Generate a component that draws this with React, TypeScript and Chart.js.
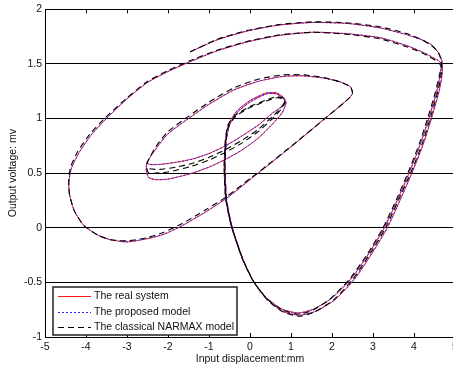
import React, { useEffect, useRef } from 'react';
import { Chart, registerables } from 'chart.js';

Chart.register(...registerables);

const seriesNames = ['The real system', 'The proposed model', 'The classical NARMAX model'];
const xTitle = 'Input displacement:mm';
const yTitle = 'Output voltage: mv';

// [input displacement, output voltage] read along the trajectory
const realSystem: [number, number][] = [
  [-1.46, 1.61], [-0.8, 1.72], [-0.08, 1.8], [0.7, 1.855], [1.54, 1.88], [2.4, 1.87], [3.17, 1.83], [3.8, 1.77], [4.2, 1.72], [4.45, 1.67], [4.6, 1.6], [4.68, 1.53],
  [4.69, 1.42], [4.62, 1.26], [4.44, 1.02], [4.24, 0.78], [3.97, 0.52], [3.67, 0.26], [3.35, 0.0], [3.0, -0.22], [2.55, -0.47], [2.07, -0.66], [1.6, -0.765], [1.2, -0.8],
  [0.8, -0.765], [0.42, -0.655], [0.1, -0.5], [-0.16, -0.3], [-0.43, 0.0], [-0.57, 0.25], [-0.61, 0.55], [-0.58, 0.8], [-0.5, 0.94],
  [-0.3, 1.06], [0.0, 1.15], [0.4, 1.225], [0.65, 1.225], [0.82, 1.18], [0.87, 1.13],
  [0.78, 1.05], [0.55, 0.95], [0.2, 0.82], [-0.2, 0.71], [-0.6, 0.625], [-1.0, 0.555], [-1.45, 0.495], [-2.0, 0.445], [-2.3, 0.44], [-2.47, 0.46], [-2.53, 0.52],
  [-2.51, 0.6], [-2.3, 0.72], [-2.0, 0.86], [-1.5, 1.0], [-1.0, 1.13], [-0.4, 1.26], [0.2, 1.34], [0.8, 1.385], [1.3, 1.39], [1.8, 1.37], [2.2, 1.335], [2.45, 1.29], [2.5, 1.23],
  [2.4, 1.18], [1.7, 0.96], [1.0, 0.74], [0.4, 0.56], [0.0, 0.44], [-0.57, 0.27], [-1.1, 0.14], [-1.65, 0.02], [-2.1, -0.06], [-2.5, -0.1], [-3.0, -0.13], [-3.4, -0.11], [-3.7, -0.07], [-4.05, 0.02], [-4.28, 0.15], [-4.4, 0.3], [-4.42, 0.42], [-4.35, 0.55],
  [-4.15, 0.7], [-3.85, 0.86], [-3.5, 1.0], [-3.0, 1.18], [-2.5, 1.33], [-2.0, 1.43], [-1.46, 1.52], [-0.8, 1.62], [-0.08, 1.7], [0.7, 1.76], [1.54, 1.79], [2.4, 1.775], [3.17, 1.74], [3.8, 1.67], [4.2, 1.61], [4.45, 1.56], [4.63, 1.52], [4.67, 1.49],
  [4.64, 1.4], [4.55, 1.24], [4.37, 1.01], [4.16, 0.77], [3.89, 0.51], [3.58, 0.24], [3.26, -0.01], [2.91, -0.23], [2.46, -0.47], [1.99, -0.645], [1.55, -0.745], [1.17, -0.78],
  [0.78, -0.745], [0.4, -0.64], [0.08, -0.485], [-0.18, -0.29], [-0.45, 0.01], [-0.59, 0.26], [-0.63, 0.55], [-0.6, 0.8], [-0.52, 0.95],
  [-0.32, 1.07], [0.0, 1.165], [0.4, 1.235], [0.65, 1.235], [0.83, 1.19], [0.88, 1.14],
  [0.78, 1.11], [0.55, 1.05], [0.2, 0.94], [-0.2, 0.84], [-0.6, 0.75], [-1.0, 0.68], [-1.4, 0.63], [-1.8, 0.6], [-2.2, 0.58], [-2.45, 0.58], [-2.52, 0.6],
];

const proposedModel: [number, number][] = [
  [-1.46, 1.612], [-0.8, 1.721], [-0.08, 1.801], [0.7, 1.856], [1.54, 1.879], [2.4, 1.869], [3.17, 1.829], [3.8, 1.769], [4.2, 1.719], [4.45, 1.668], [4.6, 1.598], [4.68, 1.528],
  [4.685, 1.418], [4.615, 1.258], [4.435, 1.018], [4.235, 0.778], [3.965, 0.518], [3.665, 0.258], [3.345, -0.002], [2.995, -0.222], [2.545, -0.471], [2.065, -0.661], [1.595, -0.766], [1.2, -0.801],
  [0.8, -0.766], [0.42, -0.656], [0.1, -0.501], [-0.16, -0.301], [-0.43, 0.0], [-0.57, 0.251], [-0.61, 0.551], [-0.58, 0.801], [-0.5, 0.941],
  [-0.3, 1.061], [0.0, 1.151], [0.4, 1.226], [0.65, 1.226], [0.82, 1.181], [0.87, 1.131],
  [0.78, 1.051], [0.55, 0.951], [0.2, 0.821], [-0.2, 0.711], [-0.6, 0.626], [-1.0, 0.556], [-1.45, 0.496], [-2.0, 0.446], [-2.3, 0.441], [-2.47, 0.461], [-2.53, 0.521],
  [-2.51, 0.601], [-2.3, 0.721], [-2.0, 0.861], [-1.5, 1.001], [-1.0, 1.131], [-0.4, 1.261], [0.2, 1.341], [0.8, 1.386], [1.3, 1.391], [1.8, 1.371], [2.2, 1.336], [2.45, 1.291], [2.5, 1.231],
  [2.4, 1.181], [1.7, 0.961], [1.0, 0.741], [0.4, 0.561], [0.0, 0.441], [-0.57, 0.271], [-1.1, 0.141], [-1.65, 0.021], [-2.1, -0.059], [-2.5, -0.099], [-3.0, -0.129], [-3.4, -0.109], [-3.7, -0.069], [-4.05, 0.021], [-4.28, 0.151], [-4.4, 0.301], [-4.42, 0.421], [-4.35, 0.551],
  [-4.15, 0.701], [-3.85, 0.861], [-3.5, 1.001], [-3.0, 1.181], [-2.5, 1.331], [-2.0, 1.431], [-1.46, 1.521], [-0.8, 1.621], [-0.08, 1.701], [0.7, 1.761], [1.54, 1.791], [2.4, 1.776], [3.17, 1.741], [3.8, 1.671], [4.2, 1.611], [4.45, 1.561], [4.63, 1.521], [4.67, 1.491],
  [4.635, 1.398], [4.545, 1.238], [4.365, 1.008], [4.155, 0.768], [3.885, 0.508], [3.575, 0.238], [3.255, -0.012], [2.905, -0.232], [2.455, -0.471], [1.985, -0.646], [1.545, -0.746], [1.17, -0.781],
  [0.78, -0.746], [0.4, -0.641], [0.08, -0.486], [-0.18, -0.291], [-0.45, 0.009], [-0.59, 0.259], [-0.63, 0.549], [-0.6, 0.799], [-0.52, 0.949],
  [-0.32, 1.069], [0.0, 1.164], [0.4, 1.234], [0.65, 1.234], [0.83, 1.189], [0.88, 1.139],
  [0.78, 1.109], [0.55, 1.049], [0.2, 0.939], [-0.2, 0.839], [-0.6, 0.749], [-1.0, 0.679], [-1.4, 0.629], [-1.8, 0.599], [-2.2, 0.579], [-2.45, 0.579], [-2.52, 0.599],
];

const narmaxModel: [number, number][] = [
  [-1.46, 1.61], [-0.8, 1.725], [-0.08, 1.805], [0.7, 1.86], [1.54, 1.885], [2.4, 1.875], [3.17, 1.84], [3.8, 1.78], [4.2, 1.72], [4.45, 1.66], [4.6, 1.6], [4.67, 1.52],
  [4.67, 1.42], [4.59, 1.26], [4.41, 1.02], [4.21, 0.78], [3.94, 0.52], [3.63, 0.26], [3.31, 0.0], [2.96, -0.22], [2.51, -0.47], [2.04, -0.66], [1.58, -0.77], [1.2, -0.81],
  [0.8, -0.77], [0.42, -0.66], [0.1, -0.5], [-0.16, -0.3], [-0.44, 0.0], [-0.57, 0.25], [-0.61, 0.55], [-0.58, 0.8], [-0.52, 0.93],
  [-0.35, 1.02], [0.0, 1.1], [0.4, 1.16], [0.65, 1.19], [0.8, 1.18], [0.85, 1.15],
  [0.75, 1.08], [0.55, 1.0], [0.2, 0.88], [-0.2, 0.775], [-0.6, 0.69], [-1.0, 0.62], [-1.45, 0.56], [-2.0, 0.51], [-2.3, 0.5], [-2.47, 0.5], [-2.52, 0.55],
  [-2.5, 0.6], [-2.3, 0.74], [-2.0, 0.88], [-1.5, 1.02], [-1.0, 1.15], [-0.4, 1.28], [0.2, 1.36], [0.8, 1.4], [1.3, 1.4], [1.8, 1.375], [2.2, 1.335], [2.45, 1.29], [2.5, 1.23],
  [2.4, 1.18], [1.7, 0.96], [1.0, 0.745], [0.4, 0.565], [0.0, 0.45], [-0.57, 0.285], [-1.1, 0.16], [-1.65, 0.04], [-2.1, -0.04], [-2.5, -0.09], [-3.0, -0.12], [-3.4, -0.11], [-3.7, -0.07], [-4.05, 0.02], [-4.28, 0.15], [-4.4, 0.3], [-4.42, 0.42], [-4.38, 0.55],
  [-4.2, 0.7], [-3.9, 0.86], [-3.55, 1.0], [-3.03, 1.18], [-2.52, 1.335], [-2.0, 1.44], [-1.46, 1.53], [-0.8, 1.625], [-0.08, 1.705], [0.7, 1.765], [1.54, 1.79], [2.4, 1.77], [3.17, 1.73], [3.8, 1.66], [4.2, 1.6], [4.45, 1.55], [4.6, 1.51], [4.66, 1.48],
  [4.62, 1.4], [4.52, 1.24], [4.34, 1.01], [4.13, 0.77], [3.86, 0.51], [3.55, 0.24], [3.23, -0.01], [2.88, -0.23], [2.43, -0.47], [1.96, -0.65], [1.53, -0.755], [1.17, -0.79],
  [0.78, -0.75], [0.4, -0.645], [0.08, -0.49], [-0.18, -0.29], [-0.45, 0.01], [-0.59, 0.26], [-0.63, 0.55], [-0.6, 0.8], [-0.54, 0.94],
  [-0.36, 1.03], [0.0, 1.11], [0.4, 1.17], [0.65, 1.2], [0.8, 1.19], [0.85, 1.16],
  [0.76, 1.1], [0.55, 1.02], [0.2, 0.9], [-0.2, 0.8], [-0.6, 0.715], [-1.0, 0.645], [-1.4, 0.59], [-1.8, 0.555], [-2.2, 0.535], [-2.45, 0.54], [-2.52, 0.57],
];

const FONT = 'Liberation Sans, Arial, sans-serif';

export default function App() {
  const ref = useRef<HTMLCanvasElement>(null);

  useEffect(() => {
    if (!ref.current) return;
    const toPts = (arr: [number, number][]) => arr.map(([x, y]) => ({ x, y }));

    const innerTicks = {
      id: 'innerTicks',
      afterDatasetsDraw(chart: any) {
        const { ctx, chartArea, scales } = chart;
        const xs = scales.x;
        ctx.save();
        ctx.strokeStyle = '#000';
        ctx.lineWidth = 1;
        xs.ticks.forEach((t: any) => {
          const px = Math.round(xs.getPixelForValue(t.value)) + 0.5;
          ctx.beginPath();
          ctx.moveTo(px, chartArea.top);
          ctx.lineTo(px, chartArea.top + 4);
          ctx.moveTo(px, chartArea.bottom);
          ctx.lineTo(px, chartArea.bottom - 4);
          ctx.stroke();
        });
        ctx.restore();
      },
    };

    const boxLegend = {
      id: 'boxLegend',
      afterDraw(chart: any) {
        const { ctx, chartArea } = chart;
        const x0 = chartArea.left + 8;
        const y0 = chartArea.bottom - 50;
        const w = 184;
        const h = 48;
        ctx.save();
        ctx.fillStyle = '#fff';
        ctx.fillRect(x0, y0, w, h);
        ctx.lineWidth = 1.5;
        ctx.strokeStyle = '#222';
        ctx.strokeRect(x0, y0, w, h);
        const order = [2, 1, 0];
        order.forEach((di, i) => {
          const ds = chart.data.datasets[di];
          const y = Math.round(y0 + 9 + i * 15.5) + 0.5;
          ctx.beginPath();
          ctx.setLineDash(ds.borderDash || []);
          ctx.strokeStyle = ds.borderColor;
          ctx.lineWidth = ds.borderWidth;
          ctx.moveTo(x0 + 5, y);
          ctx.lineTo(x0 + 38, y);
          ctx.stroke();
          ctx.setLineDash([]);
          ctx.fillStyle = '#111';
          ctx.font = `10.5px ${FONT}`;
          ctx.textBaseline = 'middle';
          ctx.textAlign = 'left';
          ctx.fillText(ds.label, x0 + 41, y);
        });
        ctx.restore();
      },
    };

    const chart = new Chart(ref.current, {
      type: 'scatter',
      data: {
        datasets: [
          {
            label: seriesNames[2],
            data: toPts(narmaxModel),
            showLine: true,
            borderColor: '#000',
            borderDash: [6, 4],
            borderWidth: 1.1,
            pointRadius: 0,
            tension: 0.2,
            order: 0,
          },
          {
            label: seriesNames[1],
            data: toPts(proposedModel),
            showLine: true,
            borderColor: '#2a2aff',
            borderDash: [2, 2],
            borderWidth: 1,
            pointRadius: 0,
            tension: 0.2,
            order: 1,
          },
          {
            label: seriesNames[0],
            data: toPts(realSystem),
            showLine: true,
            borderColor: '#ff1a1a',
            borderWidth: 1,
            pointRadius: 0,
            tension: 0.2,
            order: 2,
          },
        ],
      },
      options: {
        animation: false,
        responsive: false,
        devicePixelRatio: 1,
        layout: { padding: { top: 7, right: 10, left: 0, bottom: 0 } },
        plugins: { legend: { display: false }, tooltip: { enabled: false } },
        scales: {
          x: {
            type: 'linear',
            min: -5,
            max: 5,
            ticks: { stepSize: 1, color: '#111', font: { family: FONT, size: 10.5 }, padding: 4, maxRotation: 0, callback: (v: any) => String(v) },
            grid: { drawOnChartArea: false, drawTicks: false },
            border: { display: true, color: '#000', width: 1 },
            title: { display: true, text: xTitle, color: '#111', font: { family: FONT, size: 10.5 }, padding: { top: 0, bottom: 4 } },
            afterFit: (s: any) => { s.height = 32; },
          },
          y: {
            type: 'linear',
            min: -1,
            max: 2,
            ticks: { stepSize: 0.5, color: '#111', font: { family: FONT, size: 10.5 }, padding: 3, callback: (v: any) => String(v) },
            grid: { color: '#000', lineWidth: 1, drawTicks: false },
            border: { display: true, color: '#000', width: 1 },
            title: { display: true, text: yTitle, color: '#111', font: { family: FONT, size: 10.5 }, padding: { top: 7, bottom: 0 } },
            afterFit: (s: any) => { s.width = 45; },
          },
        },
      } as any,
      plugins: [innerTicks, boxLegend],
    });
    return () => chart.destroy();
  }, []);

  return (
    <div style={{ position: 'absolute', left: 0, top: 0, width: 453, height: 369, overflow: 'hidden', background: '#fff' }}>
      <canvas ref={ref} width={465} height={369} style={{ display: 'block' }} />
    </div>
  );
}
